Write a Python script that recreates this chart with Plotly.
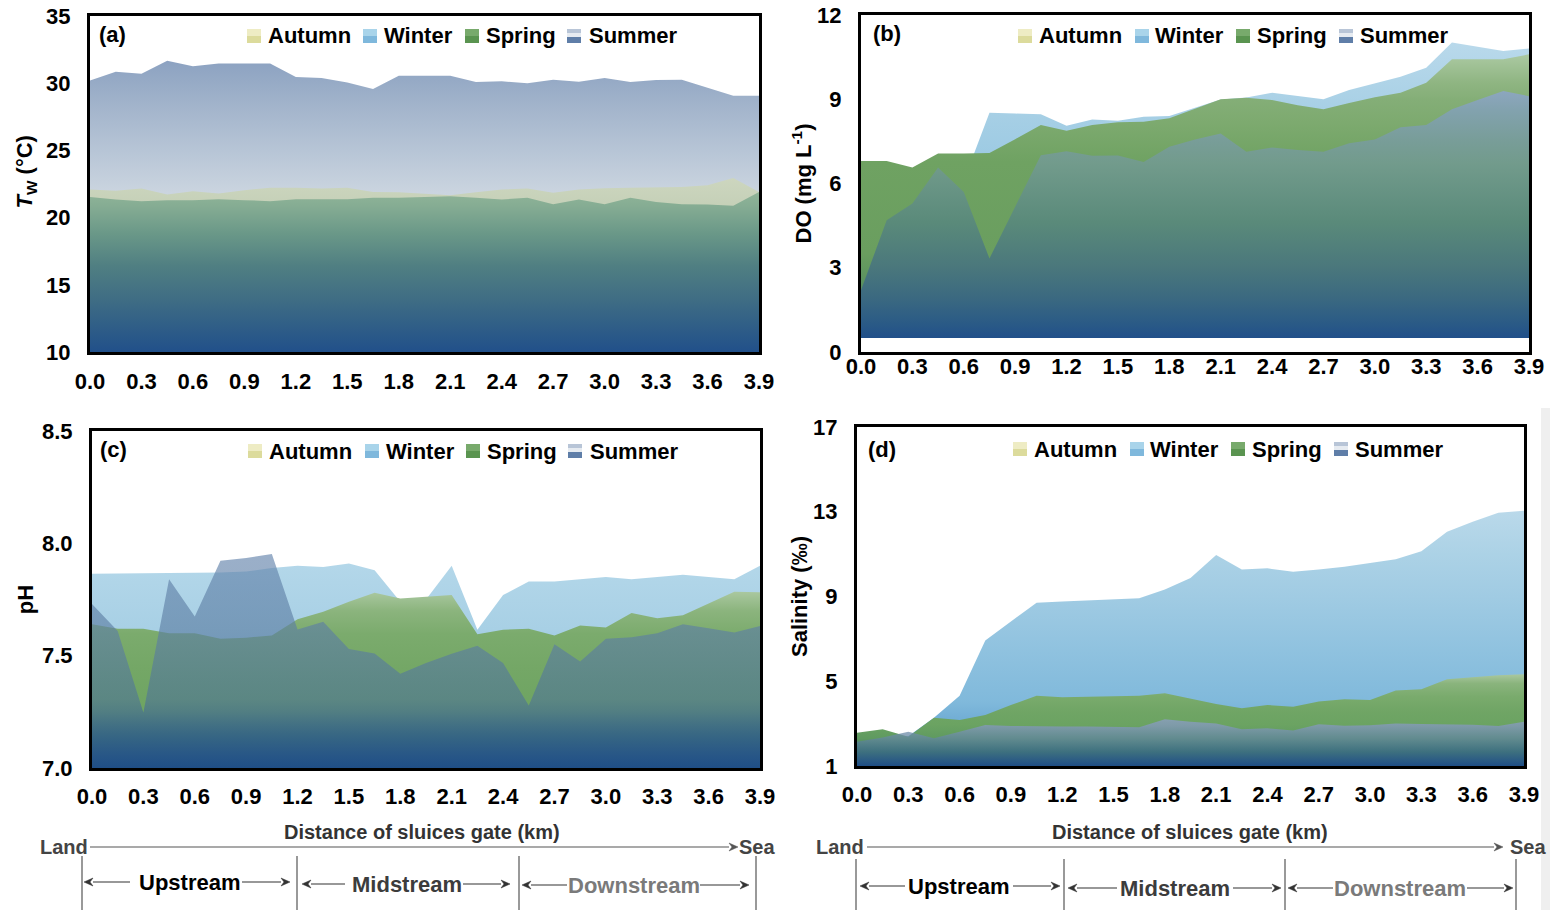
import plotly.graph_objects as go

# ---------------- data ----------------
distance_km = [0.0, 0.15, 0.3, 0.45, 0.6, 0.75, 0.9, 1.05, 1.2, 1.35, 1.5, 1.65, 1.8, 1.95,
               2.1, 2.25, 2.4, 2.55, 2.7, 2.85, 3.0, 3.15, 3.3, 3.45, 3.6, 3.75, 3.9]
x_tick_vals = [0.0, 0.3, 0.6, 0.9, 1.2, 1.5, 1.8, 2.1, 2.4, 2.7, 3.0, 3.3, 3.6, 3.9]
x_tick_text = ["0.0", "0.3", "0.6", "0.9", "1.2", "1.5", "1.8", "2.1", "2.4", "2.7", "3.0", "3.3", "3.6", "3.9"]
seasons = ["Autumn", "Winter", "Spring", "Summer"]

# (a) water temperature (°C)
tw_summer = [30.2, 30.85, 30.7, 31.67, 31.27, 31.47, 31.47, 31.47, 30.46, 30.38, 30.06, 29.57, 30.56, 30.56,
             30.56, 30.09, 30.14, 29.99, 30.26, 30.11, 30.38, 30.09, 30.23, 30.26, 29.69, 29.07, 29.07]
tw_autumn = [22.09, 21.99, 22.16, 21.72, 21.96, 21.79, 22.04, 22.23, 22.23, 22.16, 22.23, 21.91, 21.89, 21.79,
             21.67, 21.89, 22.09, 22.16, 21.84, 22.09, 22.19, 22.23, 22.23, 22.28, 22.41, 22.95, 21.9]
tw_spring = [21.54, 21.35, 21.22, 21.3, 21.3, 21.37, 21.3, 21.22, 21.37, 21.35, 21.37, 21.47, 21.47, 21.54,
             21.59, 21.47, 21.35, 21.47, 21.0, 21.35, 21.0, 21.47, 21.17, 21.0, 20.97, 20.88, 21.91]
tw_ticks = [10, 15, 20, 25, 30, 35]

# (b) dissolved oxygen (mg/L)
do_winter = [5.8, 5.9, 6.0, 6.1, 6.1, 8.52, 8.49, 8.47, 8.06, 8.28, 8.23, 8.38, 8.4, 8.69,
             8.99, 9.06, 9.23, 9.12, 9.0, 9.33, 9.56, 9.8, 10.12, 11.02, 10.87, 10.72, 10.81]
do_spring = [6.8, 6.8, 6.57, 7.07, 7.07, 7.09, 7.58, 8.08, 7.88, 8.08, 8.18, 8.2, 8.32, 8.67,
             9.0, 9.05, 8.97, 8.79, 8.64, 8.87, 9.07, 9.23, 9.59, 10.42, 10.42, 10.42, 10.6]
do_summer = [2.2, 4.69, 5.29, 6.57, 5.7, 3.33, 5.17, 7.01, 7.15, 6.99, 7.0, 6.77, 7.31, 7.57,
             7.78, 7.13, 7.28, 7.19, 7.13, 7.43, 7.57, 8.0, 8.08, 8.64, 8.97, 9.29, 9.11]
do_ticks = [0, 3, 6, 9, 12]

# (c) pH
ph_winter = [7.865, 7.866, 7.865, 7.867, 7.868, 7.87, 7.875, 7.89, 7.9, 7.895, 7.91, 7.88, 7.74, 7.75,
             7.9, 7.615, 7.77, 7.83, 7.83, 7.84, 7.85, 7.84, 7.85, 7.86, 7.85, 7.84, 7.9]
ph_spring = [7.64, 7.62, 7.62, 7.6, 7.6, 7.575, 7.58, 7.59, 7.662, 7.696, 7.74, 7.78, 7.755, 7.763,
             7.77, 7.595, 7.615, 7.62, 7.59, 7.634, 7.625, 7.69, 7.667, 7.68, 7.733, 7.785, 7.782]
ph_summer = [7.73, 7.61, 7.247, 7.84, 7.674, 7.922, 7.935, 7.952, 7.617, 7.651, 7.53, 7.51, 7.42, 7.467,
             7.508, 7.544, 7.467, 7.278, 7.551, 7.474, 7.575, 7.582, 7.6, 7.64, 7.622, 7.603, 7.632]
ph_ticks = [7.0, 7.5, 8.0, 8.5]
ph_tick_text = ["7.0", "7.5", "8.0", "8.5"]

# (d) salinity (‰)
sal_winter = [2.2, 2.3, 2.4, 3.28, 4.31, 6.92, 7.82, 8.71, 8.76, 8.81, 8.84, 8.92, 9.33, 9.87,
              10.96, 10.28, 10.33, 10.17, 10.28, 10.41, 10.58, 10.76, 11.14, 12.06, 12.53, 12.95, 13.05]
sal_spring = [2.57, 2.73, 2.38, 3.28, 3.17, 3.41, 3.88, 4.31, 4.24, 4.27, 4.27, 4.32, 4.43, 4.18,
              3.93, 3.72, 3.88, 3.8, 4.04, 4.15, 4.12, 4.56, 4.62, 5.09, 5.19, 5.28, 5.33]
sal_summer = [2.15, 2.34, 2.62, 2.31, 2.62, 2.94, 2.89, 2.86, 2.86, 2.86, 2.86, 2.83, 3.21, 3.09,
              3.01, 2.73, 2.78, 2.67, 2.97, 2.9, 2.92, 3.01, 2.98, 2.98, 2.95, 2.89, 3.09]
sal_ticks = [1, 5, 9, 13, 17]

zones = ["Upstream", "Midstream", "Downstream"]

# ---------------- styling ----------------
W, H = 1550, 910
FONT = "Liberation Sans, Arial, sans-serif"
NAVY = "#1f4e86"


def px(x):
    return x / W


def py(y):
    return 1 - y / H


def area(xs, ys, base, xa, ya, cs, start, stop, name):
    xx = list(xs) + list(xs[::-1])
    yy = list(ys) + [base] * len(xs)
    return go.Scatter(x=xx, y=yy, fill="toself", mode="lines",
                      line=dict(width=0, color="rgba(0,0,0,0)"),
                      fillgradient=dict(type="vertical", start=start, stop=stop, colorscale=cs),
                      xaxis=xa, yaxis=ya, name=name, showlegend=False, hoverinfo="skip")


fig = go.Figure()

# panel (a)
fig.add_trace(area(distance_km, tw_summer, 10, "x", "y",
                   [[0, NAVY], [0.45, "#cfd8e2"], [0.55, "#cad4df"], [0.69, "#b7c5d6"],
                    [0.86, "#a0b2ca"], [1, "#8ca2c1"]], 10, 31.7, "Summer"))
fig.add_trace(area(distance_km, tw_autumn, 10, "x", "y",
                   [[0, NAVY], [0.8, "#c3cfb6"], [1, "#cdd6bf"]], 10, 23, "Autumn"))
fig.add_trace(area(distance_km, tw_spring, 10, "x", "y",
                   [[0, "#21508a"], [0.33, "#3f6d84"], [0.54, "#507f82"], [0.74, "#6a9888"],
                    [0.91, "#85ac93"], [1, "#90b498"]], 10, 21.9, "Spring"))

# panel (b)
fig.add_trace(area(distance_km, do_winter, 0.5, "x2", "y2",
                   [[0, "#4d93c4"], [0.6, "#9ccae3"], [0.75, "#a6cfe5"], [1, "#b9d9eb"]], 0.5, 11.03, "Winter"))
fig.add_trace(area(distance_km, do_spring, 0.5, "x2", "y2",
                   [[0, "#3f7a62"], [0.3, "#6a9e5f"], [0.62, "#6fa262"], [0.76, "#7daa6f"],
                    [0.84, "#84ae77"], [0.9, "#8fb582"], [1, "#abc9a2"]], 0.5, 10.6, "Spring"))
fig.add_trace(area(distance_km, do_summer, 0.5, "x2", "y2",
                   [[0, "#21508a"], [0.057, "#2a5a86"], [0.17, "#3c6a80"], [0.285, "#4a777c"],
                    [0.47, "#5a8a7a"], [0.71, "#729b8c"], [0.8, "#789d98"], [0.925, "#82a2ae"],
                    [1, "#8ca6be"]], 0.5, 9.26, "Summer"))

# panel (c)
fig.add_trace(area(distance_km, ph_winter, 7.0, "x3", "y3",
                   [[0, "#3f86bd"], [0.5, "#93c5e0"], [0.65, "#a8d0e5"], [1, "#b5d8ea"]], 7.0, 7.952, "Winter"))
fig.add_trace(area(distance_km, ph_spring, 7.0, "x3", "y3",
                   [[0, "#22508a"], [0.15, "#3f7d6c"], [0.32, "#6ea462"], [0.57, "#74a766"],
                    [0.76, "#7bab6d"], [0.89, "#8bb47d"], [1, "#aac8a0"]], 7.0, 7.785, "Spring"))
fig.add_trace(area(distance_km, ph_summer, 7.0, "x3", "y3",
                   [[0, "rgba(31,78,134,0.95)"], [0.16, "rgba(52,96,138,0.8)"],
                    [0.32, "rgba(80,118,148,0.65)"], [0.6, "rgba(92,126,162,0.65)"],
                    [1, "rgba(100,132,172,0.65)"]], 7.0, 7.952, "Summer"))

# panel (d)
fig.add_trace(area(distance_km, sal_winter, 1, "x4", "y4",
                   [[0, "#4a8fc4"], [0.25, "#80b9db"], [0.5, "#93c4e0"], [0.66, "#a0cbe3"],
                    [0.83, "#acd2e6"], [1, "#bad9ea"]], 1, 13.06, "Winter"))
fig.add_trace(area(distance_km, sal_spring, 1, "x4", "y4",
                   [[0, "#22508a"], [0.3, "#5f9a60"], [0.45, "#6ba362"], [0.6, "#70a565"],
                    [0.76, "#7aab6d"], [0.9, "#8ab47d"], [1, "#aac8a0"]], 1, 5.33, "Spring"))
fig.add_trace(area(distance_km, sal_summer, 1, "x4", "y4",
                   [[0, "rgba(31,78,134,0.95)"], [0.3, "rgba(60,110,130,0.75)"],
                    [0.6, "rgba(100,135,160,0.75)"], [0.85, "rgba(130,152,185,0.8)"],
                    [1, "rgba(140,158,195,0.8)"]], 1, 3.21, "Summer"))

tickfont = dict(family=FONT, size=22, color="black", weight="bold")
titlefont = dict(family=FONT, size=22, color="black", weight="bold")


def xax(dom, anchor, standoff):
    return dict(domain=dom, anchor=anchor, range=[0, 3.9], tickmode="array",
                tickvals=x_tick_vals, ticktext=x_tick_text, showgrid=False, zeroline=False,
                showline=True, mirror=True, linecolor="black", linewidth=3, ticks="",
                tickfont=tickfont, ticklabelstandoff=standoff, automargin=False)


def yax(dom, anchor, rng, vals, text, title, tstandoff, standoff=12):
    return dict(domain=dom, anchor=anchor, range=rng, tickmode="array", tickvals=vals,
                ticktext=text, showgrid=False, zeroline=False, showline=True, mirror=True,
                linecolor="black", linewidth=3, ticks="", tickfont=tickfont,
                ticklabelstandoff=standoff, automargin=False,
                title=dict(text=title, font=titlefont, standoff=tstandoff))


fig.update_layout(
    width=W, height=H, margin=dict(l=0, r=0, t=0, b=0, autoexpand=False),
    paper_bgcolor="white", plot_bgcolor="white", showlegend=False,
    font=dict(family=FONT, color="black"),
    xaxis=xax([px(90), px(759)], "y", 8),
    yaxis=yax([py(352), py(16)], "x", [10, 35], tw_ticks, [str(v) for v in tw_ticks],
              "&nbsp;&nbsp;&nbsp;&nbsp;<i>T</i><sub>W</sub> (°C)", 8),
    xaxis2=xax([px(861), px(1529)], "y2", -7),
    yaxis2=yax([py(352), py(15)], "x2", [0, 12], do_ticks, [str(v) for v in do_ticks],
               "DO (mg L<sup>-1</sup>)", 0),
    xaxis3=xax([px(92), px(760)], "y3", 7),
    yaxis3=yax([py(768), py(431)], "x3", [7.0, 8.5], ph_ticks, ph_tick_text, "pH", 3),
    xaxis4=xax([px(857), px(1524)], "y4", 7),
    yaxis4=yax([py(766), py(427)], "x4", [1, 17], sal_ticks, [str(v) for v in sal_ticks],
               "Salinity (‰)", 0),
)

annotations = []
shapes = []


def text(x, y, s, size=22, color="black", bold=True, xanchor="center", angle=0):
    annotations.append(dict(x=px(x), y=py(y), xref="paper", yref="paper", text=(f"<b>{s}</b>" if bold else s),
                            showarrow=False, xanchor=xanchor, yanchor="middle", textangle=angle,
                            font=dict(family=FONT, size=size, color=color)))


def arrow(x_head, y, x_tail, color="#555555", width=1.2, hl=9, hw=4):
    d = 1 if x_head > x_tail else -1
    base = x_head - d * hl
    shapes.append(dict(type="line", xref="paper", yref="paper", x0=px(x_tail), x1=px(base),
                       y0=py(y), y1=py(y), line=dict(color=color, width=width)))
    path = (f"M {px(x_head)} {py(y)} L {px(base)} {py(y - hw)} "
            f"L {px(base + d * 3)} {py(y)} L {px(base)} {py(y + hw)} Z")
    shapes.append(dict(type="path", xref="paper", yref="paper", path=path,
                       fillcolor=color, line=dict(color=color, width=0.5)))


def vline(x, y0, y1, color="#555555"):
    shapes.append(dict(type="line", xref="paper", yref="paper", x0=px(x), x1=px(x),
                       y0=py(y0), y1=py(y1), line=dict(color=color, width=1.2)))


def rect(x0, y0, x1, y1, color):
    shapes.append(dict(type="rect", xref="paper", yref="paper", x0=px(x0), x1=px(x1),
                       y0=py(y1), y1=py(y0), fillcolor=color, line=dict(width=0), layer="above"))


# panel labels
text(112, 35, "(a)")
text(887, 34, "(b)")
text(113, 449, "(c)")
text(882, 449, "(d)")

# legends
legend_specs = [
    (36, [247, 363, 465, 567], [269, 385, 487, 590]),
    (36, [1018, 1135, 1236, 1339], [1040, 1156, 1258, 1361]),
    (451, [248, 365, 466, 568], [270, 387, 488, 591]),
    (449, [1013, 1130, 1231, 1334], [1035, 1151, 1253, 1356]),
]


def legend_icon(season, x0, yc):
    y0, y1 = yc - 7, yc + 7
    if season == "Autumn":
        rect(x0, y0, x0 + 14, yc, "#eeecc4")
        rect(x0, yc, x0 + 14, y1, "#dcdb9c")
    elif season == "Winter":
        rect(x0, y0, x0 + 14, yc, "#a9d4ea")
        rect(x0, yc, x0 + 14, y1, "#7fb8dc")
    elif season == "Spring":
        rect(x0, y0, x0 + 14, yc, "#78aa6c")
        rect(x0, yc, x0 + 14, y1, "#5a9450")
    else:
        rect(x0, y0, x0 + 14, y0 + 4, "#b8c5d7")
        rect(x0, y0 + 4, x0 + 14, y0 + 8, "#e6ebf1")
        rect(x0, y0 + 8, x0 + 14, y1, "#5f7ea8")


for yc, sq, tx in legend_specs:
    for s, a, b in zip(seasons, sq, tx):
        legend_icon(s, a, yc)
        text(b - 3, yc, s, size=22, xanchor="left")

# bottom distance annotations
groups = [
    dict(title_x=422, land_x=64, sea_x=757, line=(90, 738), vlines=[82, 297, 519, 756], vtop=856,
         zone_x=[189, 407, 634], zone_y=[882, 884, 885],
         zone_arrows=[(84, 130, 290, 242), (302, 345, 510, 463), (522, 567, 749, 700)]),
    dict(title_x=1190, land_x=840, sea_x=1528, line=(867, 1503), vlines=[856, 1064, 1285, 1516], vtop=859,
         zone_x=[959, 1175, 1400], zone_y=[886, 888, 888],
         zone_arrows=[(860, 905, 1060, 1013), (1068, 1117, 1281, 1233), (1288, 1333, 1513, 1467)]),
]
zone_colors = ["#000000", "#3c3c3c", "#7a7a7a"]

for g in groups:
    text(g["title_x"], 832, "Distance of sluices gate (km)", size=20, color="#333333")
    text(g["land_x"], 847, "Land", size=20, color="#444444")
    text(g["sea_x"], 847, "Sea", size=20, color="#444444")
    arrow(g["line"][1], 847, g["line"][0], color="#555555")
    for vx in g["vlines"]:
        vline(vx, g["vtop"], 910)
    for z, zx, zy, zc, (h1, t1, h2, t2) in zip(zones, g["zone_x"], g["zone_y"], zone_colors, g["zone_arrows"]):
        text(zx, zy, z, size=22, color=zc)
        arrow(h1, zy, t1, color="#333333")
        arrow(h2, zy, t2, color="#333333")

# light strip at right edge
rect(1541, 408, 1550, 910, "#efefef")

fig.update_layout(annotations=annotations, shapes=shapes)
fig.write_html("out.html")
